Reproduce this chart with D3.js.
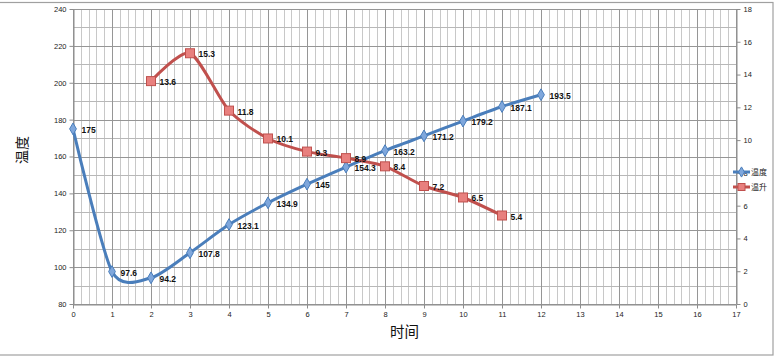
<!DOCTYPE html>
<html><head><meta charset="utf-8">
<script src="https://cdn.jsdelivr.net/npm/d3@7"></script>
<style>body{margin:0;background:#fff}svg{display:block}</style>
</head><body>
<svg id="c" width="780" height="356"></svg>
<script>
const tempX = [0,1,2,3,4,5,6,7,8,9,10,11,12];
const tempVals = [175,97.6,94.2,107.8,123.1,134.9,145,154.3,163.2,171.2,179.2,187.1,193.5];
const riseX = [2,3,4,5,6,7,8,9,10,11];
const riseVals = [13.6,15.3,11.8,10.1,9.3,8.9,8.4,7.2,6.5,5.4];
const xTicks = d3.range(0,18);
const yLTicks = [80,100,120,140,160,180,200,220,240];
const yRTicks = [0,2,4,6,8,10,12,14,16,18];
const seriesNames = ["温度","温升"];
const xTitle = "时间", yTitle = "温度";

const svg = d3.select("#c");
const x = d3.scaleLinear().domain([0,17]).range([73,736]);
const yL = d3.scaleLinear().domain([80,240]).range([304,9]);
const yR = d3.scaleLinear().domain([0,18]).range([304,9]);

// outer border
svg.append("rect").attr("x",-1).attr("y",2.5).attr("width",774).attr("height",352.5)
  .attr("fill","none").attr("stroke","#a0a0a0").attr("stroke-width",1.2);

const g = svg.append("g");
const minorX = d3.range(0,17.001,0.2).filter(v=>Math.abs(v-Math.round(v))>1e-6);
g.selectAll(".mvx").data(minorX).join("line")
  .attr("x1",d=>Math.round(x(d))+0.5).attr("x2",d=>Math.round(x(d))+0.5)
  .attr("y1",yL(240)).attr("y2",yL(80)).attr("stroke","#c8c8c8").attr("stroke-width",1);
const minorY = d3.range(90,240,20);
g.selectAll(".mhy").data(minorY).join("line")
  .attr("x1",x(0)).attr("x2",x(17))
  .attr("y1",d=>Math.round(yL(d))+0.5).attr("y2",d=>Math.round(yL(d))+0.5)
  .attr("stroke","#b8b8b8").attr("stroke-width",1);
g.selectAll(".vx").data(xTicks).join("line")
  .attr("x1",d=>Math.round(x(d))+0.5).attr("x2",d=>Math.round(x(d))+0.5)
  .attr("y1",yL(240)).attr("y2",yL(80)).attr("stroke","#969696").attr("stroke-width",1);
g.selectAll(".hy").data(yLTicks).join("line")
  .attr("x1",x(0)).attr("x2",x(17))
  .attr("y1",d=>Math.round(yL(d))+0.5).attr("y2",d=>Math.round(yL(d))+0.5)
  .attr("stroke","#969696").attr("stroke-width",1);

const axisFont = "Liberation Sans, Arial, sans-serif";
function styleAxis(sel){
  sel.select(".domain").attr("stroke","#8c8c8c");
  sel.selectAll(".tick line").attr("stroke","#8c8c8c");
  sel.selectAll(".tick text").attr("fill","#222").style("font-family",axisFont).style("font-size","7.5px");
}
svg.append("g").attr("transform",`translate(${Math.round(x(0))+0.5},0)`)
  .call(d3.axisLeft(yL).tickValues(yLTicks).tickSize(4).tickSizeOuter(0).tickPadding(3)).call(styleAxis);
svg.append("g").attr("transform",`translate(${Math.round(x(17))+0.5},0)`)
  .call(d3.axisRight(yR).tickValues(yRTicks).tickSize(4).tickSizeOuter(0).tickPadding(3)).call(styleAxis);
svg.append("g").attr("transform",`translate(0,${Math.round(yL(80))+0.5})`)
  .call(d3.axisBottom(x).tickValues(xTicks).tickSize(4).tickSizeOuter(0).tickPadding(3)).call(styleAxis);

// titles
svg.append("text").attr("x",404.5).attr("y",337).attr("text-anchor","middle")
  .style("font-family","Noto Sans CJK SC").style("font-size","14.5px").attr("fill","#111").text(xTitle);
svg.append("text").attr("transform","translate(27,150) rotate(-90)").attr("text-anchor","middle")
  .style("font-family","Noto Sans CJK SC").style("font-size","14px").attr("fill","#111").text(yTitle);

const blue = "#4a7ebb", blueFill = "#7fa7dc";
const red = "#c0504d", redFill = "#e8807e";
const curve = d3.curveCardinal.tension(0.25);

const tData = tempX.map((v,i)=>({x:v,y:tempVals[i]}));
const rData = riseX.map((v,i)=>({x:v,y:riseVals[i]}));

svg.append("path").datum(tData)
  .attr("d",d3.line().x(d=>x(d.x)).y(d=>yL(d.y)).curve(curve))
  .attr("fill","none").attr("stroke",blue).attr("stroke-width",3);
svg.append("path").datum(rData)
  .attr("d",d3.line().x(d=>x(d.x)).y(d=>yR(d.y)).curve(curve))
  .attr("fill","none").attr("stroke",red).attr("stroke-width",3);

const diamond = d3.symbol().type(d3.symbolDiamond).size(40);
svg.selectAll(".bm").data(tData).join("path")
  .attr("transform",d=>`translate(${x(d.x)},${yL(d.y)})`).attr("d",diamond())
  .attr("fill",blueFill).attr("stroke",blue).attr("stroke-width",1);
svg.selectAll(".rm").data(rData).join("rect")
  .attr("x",d=>x(d.x)-4.5).attr("y",d=>yR(d.y)-4.5).attr("width",9).attr("height",9)
  .attr("fill",redFill).attr("stroke",red).attr("stroke-width",1);

const lblFont = "Liberation Sans, Arial, sans-serif";
svg.selectAll(".bl").data(tData).join("text")
  .attr("x",d=>x(d.x)+8.5).attr("y",d=>yL(d.y)+4)
  .style("font-family",lblFont).style("font-size","8.5px").style("font-weight","bold").attr("fill","#111")
  .text(d=>d.y);
svg.selectAll(".rl").data(rData).join("text")
  .attr("x",d=>x(d.x)+8.5).attr("y",d=>yR(d.y)+4)
  .style("font-family",lblFont).style("font-size","8.5px").style("font-weight","bold").attr("fill","#111")
  .text(d=>d.y);

const leg = svg.append("g");
[[blue,blueFill,"d"],[red,redFill,"s"]].forEach((c,i)=>{
  const yy = 172 + i*15;
  leg.append("line").attr("x1",733).attr("x2",750).attr("y1",yy).attr("y2",yy).attr("stroke",c[0]).attr("stroke-width",3);
  if(c[2]==="d") leg.append("path").attr("transform",`translate(741.5,${yy})`).attr("d",d3.symbol().type(d3.symbolDiamond).size(30)()).attr("fill",c[1]).attr("stroke",c[0]);
  else leg.append("rect").attr("x",738).attr("y",yy-3.5).attr("width",7).attr("height",7).attr("fill",c[1]).attr("stroke",c[0]);
  leg.append("text").attr("x",751).attr("y",yy+3).style("font-family","Noto Sans CJK SC").style("font-size","8px").attr("fill","#222").text(seriesNames[i]);
});
</script>
</body></html>
